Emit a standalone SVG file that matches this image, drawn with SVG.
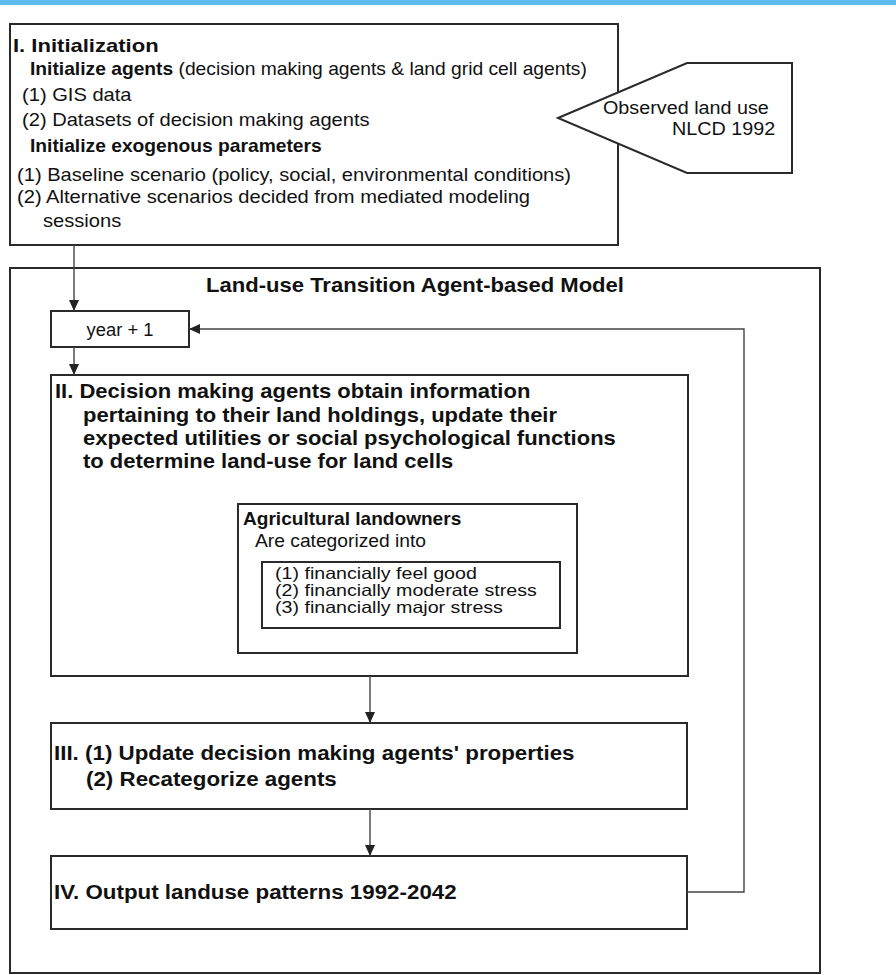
<svg xmlns="http://www.w3.org/2000/svg" width="896" height="975" viewBox="0 0 896 975">
<style>
  .box { fill: #fff; stroke: #2a2a2a; stroke-width: 2; }
  .con { fill: none; stroke: #444; stroke-width: 1.4; }
  text { font-family: "Liberation Sans", Arial, Helvetica, sans-serif; fill: #111; }
  .b { font-weight: bold; }
</style>
<defs>
  <marker id="arr" viewBox="0 0 11 10" refX="11" refY="5" markerWidth="11" markerHeight="10" markerUnits="userSpaceOnUse" orient="auto">
    <path d="M0,0 L11,5 L0,10 z" fill="#222"/>
  </marker>
</defs>
<rect width="896" height="975" fill="#fff"/>
<rect x="0" y="0" width="896" height="5" fill="#5EB9EC"/>

<g id="init">
  <rect class="box" x="10" y="24" width="608" height="221"/>
  <text class="b" font-size="19" transform="translate(13,52) scale(1.16,1)">I. Initialization</text>
  <text font-size="17.5" transform="translate(30,75) scale(1.1,1)"><tspan class="b">Initialize agents</tspan> (decision making agents &amp; land grid cell agents)</text>
  <text font-size="17.5" transform="translate(22,101) scale(1.15,1)">(1) GIS data</text>
  <text font-size="17.5" transform="translate(22,126) scale(1.15,1)">(2) Datasets of decision making agents</text>
  <text class="b" font-size="17.5" transform="translate(30,152) scale(1.1,1)">Initialize exogenous parameters</text>
  <text font-size="17.5" transform="translate(17,181) scale(1.15,1)">(1) Baseline scenario (policy, social, environmental conditions)</text>
  <text font-size="17.5" transform="translate(17,203) scale(1.15,1)">(2) Alternative scenarios decided from mediated modeling</text>
  <text font-size="17.5" transform="translate(43,227) scale(1.15,1)">sessions</text>
</g>

<g id="observed">
  <polygon class="box" points="558,118 687,63 792,63 792,173 687,173"/>
  <text font-size="17.5" transform="translate(603,114) scale(1.13,1)">Observed land use</text>
  <text font-size="17.5" transform="translate(672,135) scale(1.13,1)">NLCD 1992</text>
</g>

<g id="model">
  <rect class="box" x="10" y="268" width="810" height="705"/>
  <text class="b" font-size="21" text-anchor="middle" transform="translate(415,292) scale(1.05,1)">Land-use Transition Agent-based Model</text>
</g>

<g id="year">
  <rect class="box" x="51" y="311" width="138" height="36"/>
  <text font-size="17.5" text-anchor="middle" transform="translate(120,336) scale(1.05,1)">year + 1</text>
</g>

<g id="step2">
  <rect class="box" x="51" y="375" width="637" height="301"/>
  <text class="b" font-size="20" transform="translate(55,398) scale(1.1,1)">II. Decision making agents obtain information</text>
  <text class="b" font-size="20" transform="translate(83,422) scale(1.1,1)">pertaining to their land holdings, update their</text>
  <text class="b" font-size="20" transform="translate(83,445) scale(1.1,1)">expected utilities or social psychological functions</text>
  <text class="b" font-size="20" transform="translate(83,468) scale(1.1,1)">to determine land-use for land cells</text>
</g>

<g id="landowners">
  <rect class="box" x="238" y="504" width="339" height="149" stroke-width="1.6"/>
  <text class="b" font-size="17.5" transform="translate(243,525) scale(1.09,1)">Agricultural landowners</text>
  <text font-size="17.5" transform="translate(255,547) scale(1.1,1)">Are categorized into</text>
</g>

<g id="categories">
  <rect class="box" x="262" y="562" width="298" height="66" stroke-width="1.6"/>
  <text font-size="16.5" transform="translate(275,579) scale(1.19,1)">(1) financially feel good</text>
  <text font-size="16.5" transform="translate(275,596) scale(1.19,1)">(2) financially moderate stress</text>
  <text font-size="16.5" transform="translate(275,613) scale(1.19,1)">(3) financially major stress</text>
</g>

<g id="step3">
  <rect class="box" x="51" y="723" width="636" height="86"/>
  <text class="b" font-size="20.5" transform="translate(54,760) scale(1.09,1)">III. (1) Update decision making agents' properties</text>
  <text class="b" font-size="20.5" transform="translate(86,786) scale(1.09,1)">(2) Recategorize agents</text>
</g>

<g id="step4">
  <rect class="box" x="51" y="856" width="636" height="73"/>
  <text class="b" font-size="20.5" transform="translate(54,899) scale(1.09,1)">IV. Output landuse patterns 1992-2042</text>
</g>

<g id="connectors">
  <path class="con" d="M74,245 V311" marker-end="url(#arr)"/>
  <path class="con" d="M74,347 V375" marker-end="url(#arr)"/>
  <path class="con" d="M370,676 V723" marker-end="url(#arr)"/>
  <path class="con" d="M370,809 V856" marker-end="url(#arr)"/>
  <path class="con" d="M687,892 H744 V329 H189" marker-end="url(#arr)"/>
</g>
</svg>
